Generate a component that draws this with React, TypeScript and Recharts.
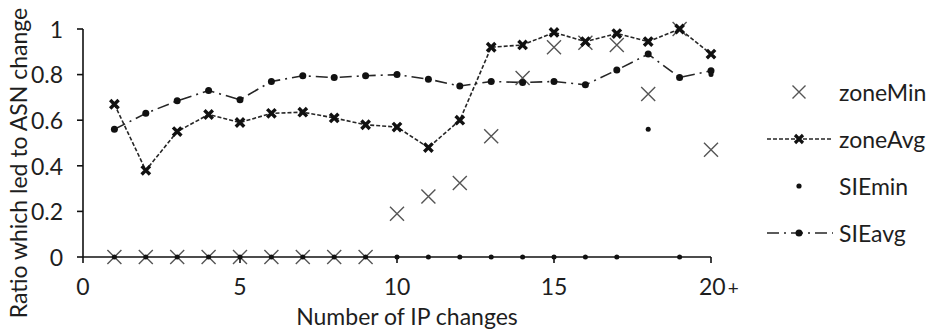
import React from "react";
import { ComposedChart, Line, XAxis, YAxis, Label } from "recharts";

const xValues = [1, 2, 3, 4, 5, 6, 7, 8, 9, 10, 11, 12, 13, 14, 15, 16, 17, 18, 19, 20];
const zoneMin = [0, 0, 0, 0, 0, 0, 0, 0, 0, 0.19, 0.265, 0.325, 0.53, 0.785, 0.92, 0.94, 0.93, 0.715, 1.0, 0.47];
const zoneAvg = [0.67, 0.38, 0.55, 0.625, 0.59, 0.63, 0.635, 0.61, 0.58, 0.57, 0.48, 0.6, 0.92, 0.93, 0.985, 0.945, 0.98, 0.945, 1.0, 0.89];
const sieMin = [0, 0, 0, 0, 0, 0, 0, 0, 0, 0, 0, 0, 0, 0, 0, 0, 0, 0.56, 0, 0.8];
const sieAvg = [0.56, 0.63, 0.685, 0.73, 0.69, 0.77, 0.795, 0.787, 0.795, 0.8, 0.78, 0.75, 0.77, 0.765, 0.77, 0.755, 0.82, 0.89, 0.787, 0.817];
const xTicks = [0, 5, 10, 15, 20];
const yTicks = [0, 0.2, 0.4, 0.6, 0.8, 1];
const seriesNames = ["zoneMin", "zoneAvg", "SIEmin", "SIEavg"];

const data = xValues.map((x, i) => ({
  x,
  zoneMin: zoneMin[i],
  zoneAvg: zoneAvg[i],
  sieMin: sieMin[i],
  sieAvg: sieAvg[i],
}));

const FONT = "Lato, 'Noto Sans', sans-serif";
const FS = 23;
const TXT = "#1e1e1e";
const LINE = "#262626";

const GrayX = (p: any) => {
  const { cx, cy } = p;
  if (cx == null || cy == null) return null;
  const s = 7;
  return (
    <path
      key={p.key}
      d={`M${cx - s},${cy - s}L${cx + s},${cy + s}M${cx - s},${cy + s}L${cx + s},${cy - s}`}
      stroke="#555"
      strokeWidth={1.4}
      fill="none"
    />
  );
};

const BoldX = (p: any) => {
  const { cx, cy } = p;
  if (cx == null || cy == null) return null;
  const s = 4.2;
  return (
    <path
      key={p.key}
      d={`M${cx - s},${cy - s}L${cx + s},${cy + s}M${cx - s},${cy + s}L${cx + s},${cy - s}`}
      stroke="#111"
      strokeWidth={3.4}
      fill="none"
    />
  );
};

const Dot = (r: number) => (p: any) => {
  const { cx, cy } = p;
  if (cx == null || cy == null) return null;
  return <circle key={p.key} cx={cx} cy={cy} r={r} fill="#111" />;
};

const XTick = (p: any) => {
  const { x, y, payload } = p;
  const v = payload.value;
  if (v === 20) {
    return (
      <text x={x - 12} y={y} dy="0.71em" textAnchor="start" fontFamily={FONT} fontSize={FS} fill={TXT}>
        20<tspan fontSize={FS - 4} dx={2}>+</tspan>
      </text>
    );
  }
  return (
    <text x={x} y={y} dy="0.71em" textAnchor="middle" fontFamily={FONT} fontSize={FS} fill={TXT}>
      {v}
    </text>
  );
};

const YTick = (p: any) => {
  const { x, y, payload } = p;
  return (
    <text x={x} y={y} dy="0.38em" textAnchor="end" fontFamily={FONT} fontSize={FS} fill={TXT}>
      {payload.value}
    </text>
  );
};

const LegendSymbol = ({ kind }: { kind: number }) => {
  const w = 70;
  const h = 20;
  const c = 32;
  const cy = 10;
  if (kind === 0) {
    const s = 6.5;
    return (
      <svg width={w} height={h}>
        <path d={`M${c - s},${cy - s}L${c + s},${cy + s}M${c - s},${cy + s}L${c + s},${cy - s}`} stroke="#555" strokeWidth={1.4} />
      </svg>
    );
  }
  if (kind === 1) {
    const s = 4;
    return (
      <svg width={w} height={h}>
        <line x1={0} y1={cy} x2={66} y2={cy} stroke={LINE} strokeWidth={1.5} strokeDasharray="4 2" />
        <path d={`M${c - s},${cy - s}L${c + s},${cy + s}M${c - s},${cy + s}L${c + s},${cy - s}`} stroke="#111" strokeWidth={3.2} />
      </svg>
    );
  }
  if (kind === 2) {
    return (
      <svg width={w} height={h}>
        <circle cx={c} cy={cy} r={2.6} fill="#111" />
      </svg>
    );
  }
  return (
    <svg width={w} height={h}>
      <line x1={0} y1={cy} x2={66} y2={cy} stroke={LINE} strokeWidth={1.5} strokeDasharray="12 5 2 5" />
      <circle cx={c} cy={cy} r={3.5} fill="#111" />
    </svg>
  );
};

export default function App() {
  return (
    <div style={{ position: "absolute", left: 0, top: 0, width: 933, height: 332, background: "#fff" }}>
      <ComposedChart
        width={933}
        height={332}
        data={data}
        margin={{ top: 29, right: 222, bottom: 0, left: 0 }}
      >
        <XAxis
          dataKey="x"
          type="number"
          domain={[0, 20]}
          ticks={xTicks}
          interval={0}
          height={75}
          tickSize={6}
          tickMargin={16}
          tick={<XTick />}
          axisLine={{ stroke: "#111", strokeWidth: 1.6 }}
          tickLine={{ stroke: "#111", strokeWidth: 1.6 }}
          allowDecimals={false}
        >
          <Label
            content={() => (
              <text x={407} y={325} textAnchor="middle" fontFamily={FONT} fontSize={FS} fill={TXT}>
                Number of IP changes
              </text>
            )}
          />
        </XAxis>
        <YAxis
          type="number"
          domain={[0, 1]}
          ticks={yTicks}
          interval={0}
          width={83}
          tickSize={6}
          tickMargin={14}
          tick={<YTick />}
          axisLine={{ stroke: "#111", strokeWidth: 1.6 }}
          tickLine={{ stroke: "#111", strokeWidth: 1.6 }}
        >
          <Label
            content={() => (
              <text
                transform="translate(27,163) rotate(-90)"
                textAnchor="middle"
                fontFamily={FONT}
                fontSize={FS}
                fill={TXT}
              >
                Ratio which led to ASN change
              </text>
            )}
          />
        </YAxis>
        <Line
          dataKey="zoneMin"
          stroke="none"
          dot={GrayX}
          activeDot={false}
          isAnimationActive={false}
        />
        <Line
          dataKey="sieMin"
          stroke="none"
          dot={Dot(2.5)}
          activeDot={false}
          isAnimationActive={false}
        />
        <Line
          dataKey="sieAvg"
          stroke={LINE}
          strokeWidth={1.6}
          strokeDasharray="12 5 2 5"
          dot={Dot(3.5)}
          activeDot={false}
          isAnimationActive={false}
        />
        <Line
          dataKey="zoneAvg"
          stroke={LINE}
          strokeWidth={1.6}
          strokeDasharray="4 2"
          dot={BoldX}
          activeDot={false}
          isAnimationActive={false}
        />
      </ComposedChart>
      <div style={{ position: "absolute", left: 767, top: 0 }}>
        {seriesNames.map((name, i) => (
          <div
            key={name}
            style={{
              position: "absolute",
              left: 0,
              top: 92 + i * 47 - 14,
              height: 28,
              display: "flex",
              alignItems: "center",
              whiteSpace: "nowrap",
            }}
          >
            <LegendSymbol kind={i} />
            <span style={{ fontFamily: FONT, fontSize: FS, color: TXT, marginLeft: 2 }}>{name}</span>
          </div>
        ))}
      </div>
    </div>
  );
}
